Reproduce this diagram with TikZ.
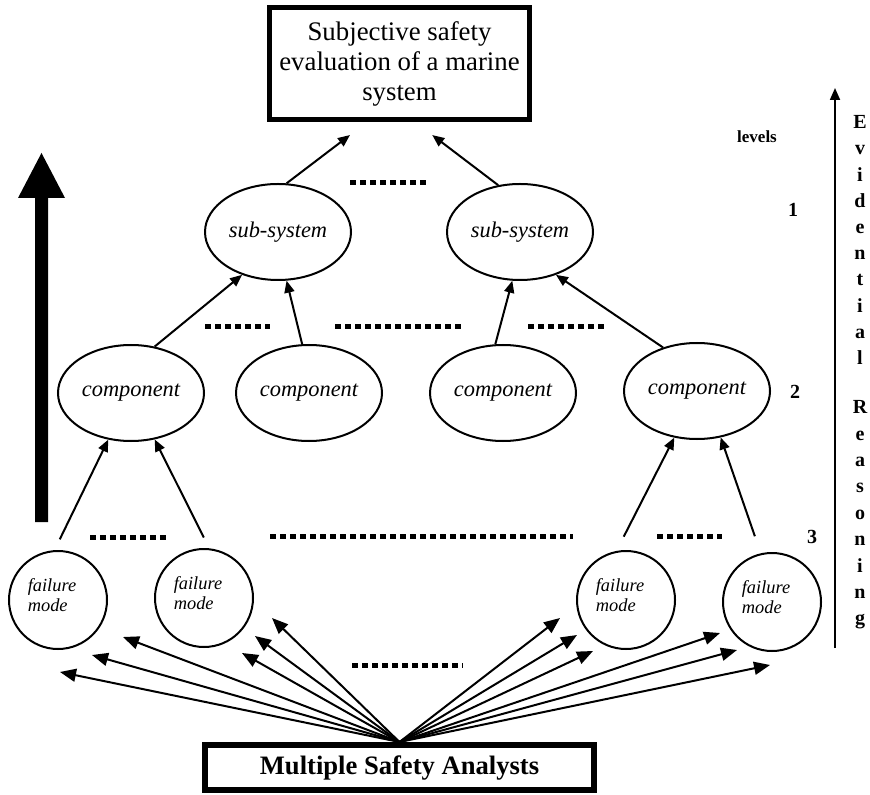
\documentclass[tikz,border=0pt]{standalone}
\usepackage{fontspec}
\setmainfont{Liberation Serif}
\usetikzlibrary{arrows.meta}
\usetikzlibrary{shapes.geometric}
\tikzset{topbox/.style = {draw, rectangle, line width = 2.6pt, inner sep = 0, minimum width = 130pt, minimum height = 56pt, align = center, font = \fontsize{13.4}{15}\selectfont}}
\tikzset{anabox/.style = {draw, rectangle, line width = 3pt, inner sep = 0, minimum width = 194.5pt, minimum height = 22.5pt, font = \bfseries\fontsize{13.3}{15}\selectfont}}
\tikzset{sysnode/.style = {draw, ellipse, line width = 1pt, inner sep = 0, minimum width = 73pt, minimum height = 48pt, font = \itshape\fontsize{11.2}{13}\selectfont}}
\tikzset{fmnode/.style = {draw, circle, line width = 1pt, inner sep = 0, minimum size = 49pt}}
\tikzset{fmtext/.style = {align = left, xshift = -3pt, yshift = 2.5pt, font = \itshape\fontsize{9.2}{10}\selectfont}}
\tikzset{dots/.style = {line width = 2.5pt, dash pattern = on 3.2pt off 1.8pt}}
\tikzset{conn/.style = {line width = 1pt, -{Triangle[length = 6pt, width = 5pt]}}}
\tikzset{fan/.style = {line width = 1pt, -{Triangle[length = 8pt, width = 6.5pt]}}}
\tikzset{lvl/.style = {inner sep = 0, font = \bfseries\fontsize{10}{10}\selectfont}}
\tikzset{vletter/.style = {inner sep = 0, text height = 6.7pt, text depth = 0pt, font = \bfseries\fontsize{10}{10}\selectfont}}

\begin{document}
\begin{tikzpicture}[x = 0.5pt, y = -0.5pt]

      \useasboundingbox (0, 0) rectangle (870, 795);

      \node [topbox] (top) at (399.5, 63.5) {Subjective safety\\evaluation of a marine\\system};
      \node [anabox] (ana) at (399.5, 767.5) {Multiple Safety Analysts};

      \node [sysnode] (sub1) at (278, 232) {sub-system};
      \node [sysnode] (sub2) at (520, 232) {sub-system};

      \node [sysnode] (comp1) at (131, 393) {component};
      \node [sysnode] (comp2) at (309, 393) {component};
      \node [sysnode] (comp3) at (503, 393) {component};
      \node [sysnode] (comp4) at (697, 391) {component};

      \node [fmnode, label = {[fmtext]center:failure\\mode}] (fm1) at (58, 600) {};
      \node [fmnode, label = {[fmtext]center:failure\\mode}] (fm2) at (204, 598) {};
      \node [fmnode, label = {[fmtext]center:failure\\mode}] (fm3) at (626, 600) {};
      \node [fmnode, label = {[fmtext]center:failure\\mode}] (fm4) at (772, 602) {};

      \draw [conn, shorten > = 10.7pt] (sub1.80) -- (top.241);
      \draw [conn, shorten > = 10.7pt] (sub2.115) -- (top.285.5);

      \draw [conn] (comp1.63) -- (sub1.230);
      \draw [conn] (comp2.98) -- (sub1.280);
      \draw [conn] (comp3.99) -- (sub2.261);
      \draw [conn] (comp4.128) -- (sub2.310);

      \draw [conn, shorten < = 6pt] (fm1.94) -- (comp1.244);
      \draw [conn, shorten < = 6pt] (fm2.84) -- (comp1.297.5);
      \draw [conn, shorten < = 8pt] (fm3.101) -- (comp4.244.8);
      \draw [conn, shorten < = 9pt] (fm4.103) -- (comp4.297);

      \foreach \tx/\ty [count = \i] in {60/672, 92/655, 123/637, 242/653, 255/636, 272/618,
                                       560/618, 577/635, 593/651, 720/633, 737/650, 770/665} {
        \coordinate (tip\i) at (\tx, \ty);
        \draw [fan] (ana.north) -- (tip\i);
      }

      \draw [dots] (350, 183) -- (427, 183);
      \draw [dots] (205, 327) -- (270, 327);
      \draw [dots] (335, 327) -- (462, 327);
      \draw [dots] (528, 327) -- (605, 327);
      \draw [dots] (90, 537) -- (167, 537);
      \draw [dots] (270, 536) -- (573, 536);
      \draw [dots] (657, 536) -- (722, 536);
      \draw [dots] (352, 665) -- (463, 665);

      \fill (35, 522) -- (35, 198) -- (18, 198) -- (41.5, 153) -- (65, 198) -- (48, 198) -- (48, 522) -- cycle;

      \node [lvl, font = \bfseries\fontsize{8.5}{10}\selectfont] (levels) at (757, 137) {levels};
      \node [lvl] (lvl1) at (793, 210) {1};
      \node [lvl] (lvl2) at (795, 392) {2};
      \node [lvl] (lvl3) at (812, 537) {3};

      \coordinate (erbot) at (835, 648);
      \coordinate (ertop) at (835, 88);
      \draw [line width = 0.9pt, -{Triangle[length = 6pt, width = 5pt]}] (erbot) -- (ertop);

      \foreach \ch [count = \i] in {E, v, i, d, e, n, t, i, a, l}
        \node [vletter] (ev\i) at (860, {122 + 26.2 * (\i - 1)}) {\ch};
      \foreach \ch [count = \i] in {R, e, a, s, o, n, i, n, g}
        \node [vletter] (re\i) at (860, {407 + 26.4 * (\i - 1)}) {\ch};

    \end{tikzpicture}
\end{document}
